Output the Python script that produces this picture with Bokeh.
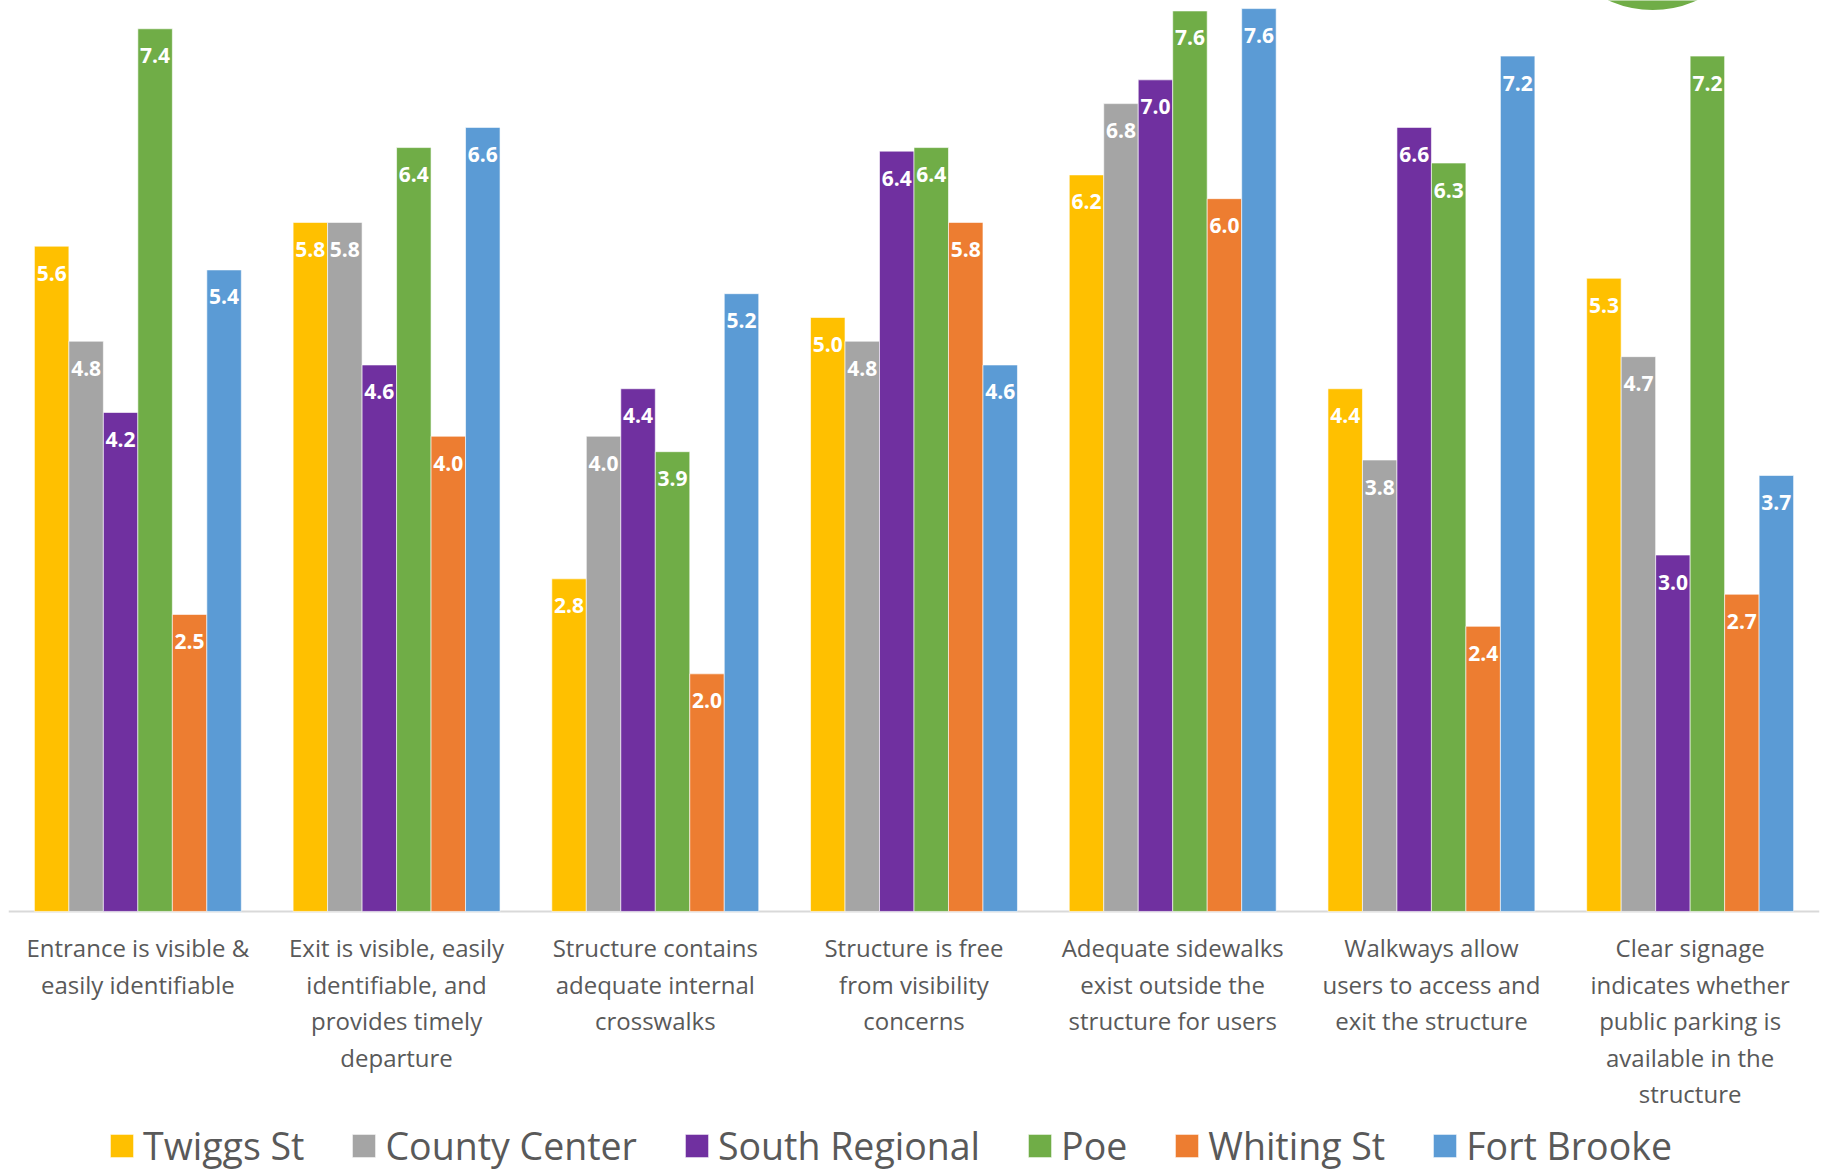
from bokeh.plotting import figure
from bokeh.models import ColumnDataSource, FactorRange, Range1d, Legend, LegendItem
from bokeh.transform import dodge
from bokeh.core.properties import value
from bokeh.embed import file_html
from bokeh.resources import INLINE

categories = [
    "Entrance is visible &\neasily identifiable",
    "Exit is visible, easily\nidentifiable, and\nprovides timely\ndeparture",
    "Structure contains\nadequate internal\ncrosswalks",
    "Structure is free\nfrom visibility\nconcerns",
    "Adequate sidewalks\nexist outside the\nstructure for users",
    "Walkways allow\nusers to access and\nexit the structure",
    "Clear signage\nindicates whether\npublic parking is\navailable in the\nstructure",
]
series_names = ["Twiggs St", "County Center", "South Regional", "Poe", "Whiting St", "Fort Brooke"]
twiggs_st = [5.6, 5.8, 2.8, 5.0, 6.2, 4.4, 5.33]
county_center = [4.8, 5.8, 4.0, 4.8, 6.8, 3.8, 4.67]
south_regional = [4.2, 4.6, 4.4, 6.4, 7.0, 6.6, 3.0]
poe = [7.43, 6.43, 3.87, 6.43, 7.58, 6.3, 7.2]
whiting_st = [2.5, 4.0, 2.0, 5.8, 6.0, 2.4, 2.67]
fort_brooke = [5.4, 6.6, 5.2, 4.6, 7.6, 7.2, 3.67]
series_values = [twiggs_st, county_center, south_regional, poe, whiting_st, fort_brooke]
colors = ["#FFC000", "#A5A5A5", "#7030A0", "#70AD47", "#ED7D31", "#5B9BD5"]

Y_MAX = 7.668
Y_MIN = -2.189   # room under the baseline for category labels and legend
FONT = "Open Sans"

data = {"cat": categories, "zero": [0] * len(categories)}
for i, vals in enumerate(series_values):
    data[f"s{i}"] = vals
    data[f"l{i}"] = [f"{v:.1f}" for v in vals]
source = ColumnDataSource(data)

p = figure(
    x_range=FactorRange(*categories, range_padding=0),
    y_range=Range1d(Y_MIN, Y_MAX),
    frame_width=1811, frame_height=1171,
    min_border_left=8, min_border_right=11, min_border_top=0, min_border_bottom=0,
    output_backend="svg", toolbar_location=None,
    x_axis_location=None, y_axis_location=None,
)
p.outline_line_color = None
p.xgrid.grid_line_color = None
p.ygrid.grid_line_color = None
p.background_fill_color = "white"
p.border_fill_color = "white"

# decorative partial green circle (logo fragment) at the top edge
p.circle(x=[6.355], y=[8.48], radius=106, radius_units="screen",
         fill_color="#70AD47", line_color=None)

# category baseline
p.hspan(y=[0], line_color="#D9D9D9", line_width=2)

bw = 0.1333
items = []
for i, name in enumerate(series_names):
    off = (i - 2.5) * bw
    r = p.vbar(x=dodge("cat", off, range=p.x_range), top=f"s{i}", bottom="zero",
               width=bw, source=source, fill_color=colors[i], line_color="white",
               line_alpha=0.6, line_width=1)
    p.text(x=dodge("cat", off, range=p.x_range), y=f"s{i}", text=f"l{i}",
           source=source, text_color="white", text_font=value(FONT),
           text_font_style="bold", text_font_size="21px", text_align="center",
           text_baseline="middle", y_offset=27)
    items.append(LegendItem(label=name, renderers=[r]))

# category labels under the baseline
p.text(x="cat", y="zero", text="cat", source=source, text_color="#595959",
       text_font=value(FONT), text_font_size="24px", text_align="center",
       text_baseline="top", text_line_height=1.105, y_offset=20)

legend = Legend(items=items, orientation="horizontal", location=(99, 0),
                label_text_font=FONT, label_text_font_size="37.5px",
                label_text_color="#595959", glyph_width=29, glyph_height=29,
                label_standoff=7, spacing=45, padding=0, margin=0,
                border_line_color=None, background_fill_alpha=0)
p.add_layout(legend, "center")

open("out.html", "w").write(file_html(p, INLINE))
